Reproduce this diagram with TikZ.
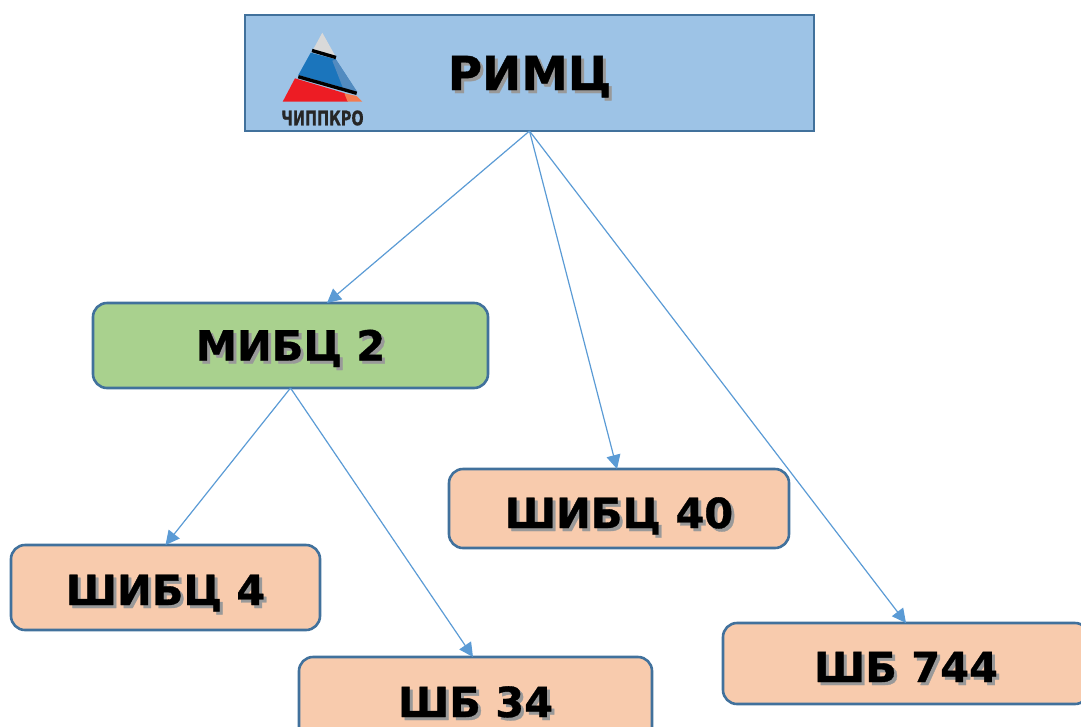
\documentclass[tikz,border=0pt]{standalone}
\usepackage{fontspec}
\setmainfont{DejaVu Sans}[BoldFeatures={FakeBold=0.8}]
\usetikzlibrary{arrows.meta}
\definecolor{rimcfill}{HTML}{9DC3E6}
\definecolor{mibcfill}{HTML}{A9D18E}
\definecolor{shibfill}{HTML}{F8CBAD}
\definecolor{boxline}{HTML}{41719C}
\definecolor{linkline}{HTML}{5B9BD5}
\definecolor{logoblue}{HTML}{1B75BC}
\definecolor{logored}{HTML}{ED1C24}
\definecolor{logoorange}{HTML}{F47B50}
\newcommand{\shadowed}[1]{\rlap{\raisebox{-3pt}{\hspace{3pt}\textcolor{black!40}{#1}}}#1}

\begin{document}
\begin{tikzpicture}[x=1pt,y=-1pt,>={Triangle[length=14pt,width=14pt]},
  org/.style={draw=boxline,line width=2.6pt,inner sep=0pt,outer sep=0pt,text depth=0pt,text height=30pt,font=\bfseries\fontsize{41.5}{41.5}\selectfont},
  rimc/.style={org,rectangle,fill=rimcfill,minimum width=569pt,minimum height=116pt,font=\bfseries\fontsize{46.8}{46.8}\selectfont,text height=34pt},
  mibc/.style={org,rounded corners=14pt,fill=mibcfill,minimum width=395pt,minimum height=85pt},
  shib/.style={org,rounded corners=14pt,fill=shibfill},
  link/.style={->,linkline,line width=1.2pt}]
\useasboundingbox (0,0) rectangle (1081,726);
\clip (0,0) rectangle (1081,726);

  \node[rimc] (RIMC) at (529.5,73) {\shadowed{РИМЦ}};
  \node[mibc] (MIBC) at (290.5,345.5) {\shadowed{МИБЦ 2}};
  \node[shib,minimum width=340pt,minimum height=79pt,text height=39pt] (S40) at (619,508.5) {\shadowed{ШИБЦ 40}};
  \node[shib,minimum width=309pt,minimum height=85pt,text height=35pt] (S4) at (165.5,587.5) {\shadowed{ШИБЦ 4}};
  \node[shib,minimum width=353pt,minimum height=90pt] (B34) at (475.5,702) {\shadowed{ШБ 34}};
  \node[shib,minimum width=366pt,minimum height=81pt,text height=37pt] (B744) at (906,663.5) {\shadowed{ШБ 744}};

  \coordinate (MIBCin) at (327,303);
  \coordinate (S40in) at (617,469);
  \coordinate (B34in) at (473,657);

  \path (RIMC.south) edge[link] (MIBCin)
                     edge[link] (S40in)
                     edge[link] (B744.north)
        (MIBC.south) edge[link] (S4.north)
                     edge[link] (B34in);

  % logo
  \fill[black!15] (322.3,32.7) -- (313.3,49.3) -- (335.7,56.7) -- cycle;
  \fill[logoblue] (310.7,52.7) -- (335.7,59.3) -- (356.7,91.7) -- (298.3,75) -- cycle;
  \fill[linkline!90!black] (332.3,60.7) -- (336,59.5) -- (357,91.5) -- (343,88) -- cycle;
  \fill[logored] (295,78.3) -- (345,93.3) -- (348,101.7) -- (282.7,101.7) -- cycle;
  \fill[logoorange] (344.3,93.3) -- (356.7,96) -- (362.3,101.7) -- (347.7,101.7) -- cycle;
  \draw[line width=3.4pt] (312,50.5) -- (336,57.5);
  \draw[line width=3.4pt] (298.3,76.7) -- (356.7,93.3);
  \node[inner sep=0pt,text=black!85,font=\bfseries\fontsize{20}{20}\selectfont,xscale=.72] (logotext) at (322.5,118) {ЧИППКРО};
\end{tikzpicture}
\end{document}
